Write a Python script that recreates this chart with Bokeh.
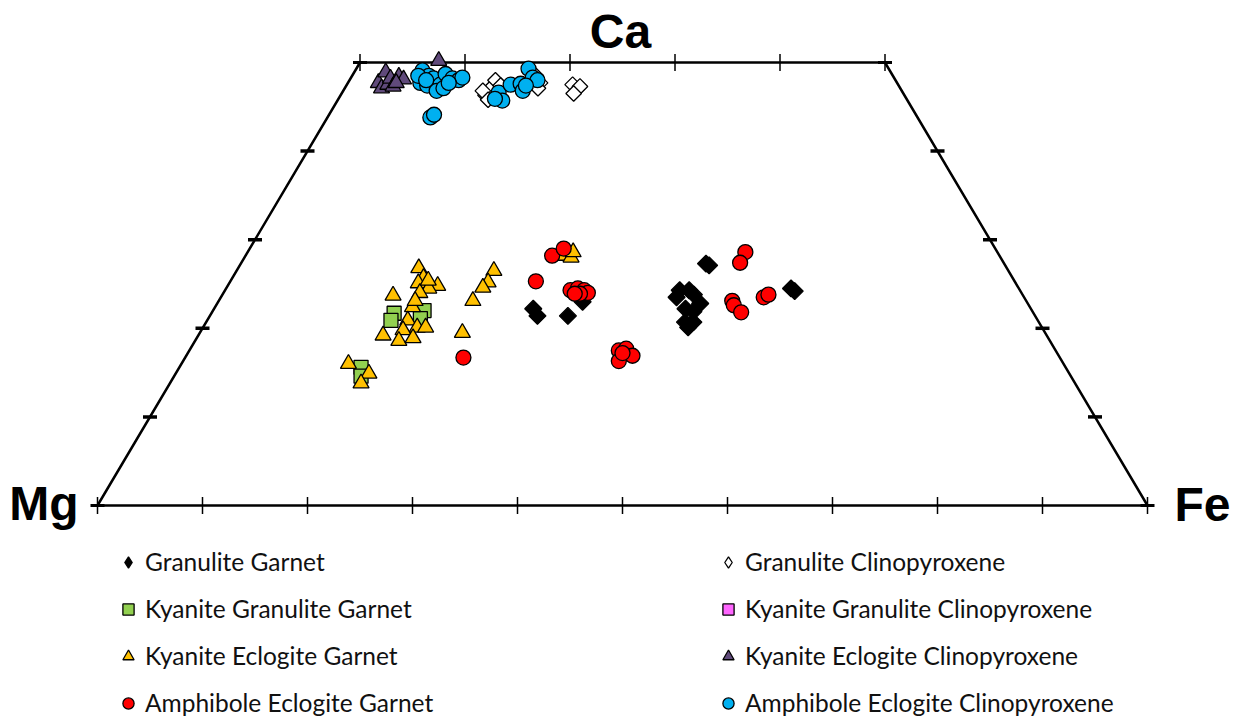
import numpy as np
from bokeh.plotting import figure
from bokeh.models import Legend, LegendItem, Label, Range1d
from bokeh.embed import file_html
from bokeh.resources import INLINE

# ---------------- data: Ca and Fe in mol % (Mg = 100 - Ca - Fe) ----------------
gran_grt_ca = [22.2, 21.4, 21.4, 23.0, 27.3, 27.1, 24.3, 24.3, 23.8, 22.8, 22.2, 21.9, 20.7, 20.7, 20.1, 24.5, 24.2, 23.5]
gran_grt_fe = [30.4, 31.2, 34.1, 34.7, 44.3, 44.7, 43.3, 44.2, 44.9, 46.0, 44.9, 45.8, 45.6, 46.4, 46.2, 53.8, 54.3, 43.4]

ky_gran_grt_ca = [21.7, 20.9, 22.0, 21.1, 15.6, 14.6]
ky_gran_grt_fe = [17.4, 17.5, 20.1, 20.2, 17.3, 17.8]

ky_ecl_grt_ca = [26.8, 25.7, 25.1, 24.8, 24.5, 24.0, 23.7, 22.4, 20.9, 20.1, 20.1, 19.8, 19.2, 18.6,
                 18.9, 26.5, 25.2, 24.6, 23.1, 19.5, 16.0, 14.9, 13.8, 28.2, 28.0, 28.6, 23.1, 25.4]
ky_ecl_grt_fe = [17.2, 18.2, 18.0, 20.0, 19.3, 18.7, 16.3, 18.8, 19.1, 20.4, 21.2, 19.2, 17.6, 19.4,
                 20.6, 24.5, 24.6, 24.4, 24.2, 25.0, 15.9, 18.4, 18.2, 30.3, 31.1, 31.0, 18.7, 18.8]

amph_ecl_grt_ca = [28.2, 29.0, 25.3, 24.3, 24.5, 24.3, 24.0, 23.9, 16.7, 17.5, 17.7, 16.9, 16.3,
                   28.6, 27.4, 23.1, 22.6, 21.8, 23.5, 23.8, 23.9, 17.2]
amph_ecl_grt_fe = [29.2, 29.9, 29.1, 32.9, 33.5, 34.2, 34.7, 34.0, 26.5, 40.9, 41.5, 42.5, 41.5,
                   47.4, 47.5, 48.9, 49.3, 50.4, 51.7, 52.0, 33.5, 41.4]

gran_cpx_ca = [46.3, 47.1, 48.0, 46.8, 45.8, 48.5, 47.7, 47.1, 47.5, 47.3, 46.5, 47.4]
gran_cpx_fe = [13.8, 13.9, 13.9, 13.3, 14.3, 17.5, 18.3, 18.4, 21.5, 22.3, 22.1, 14.7]

ky_gran_cpx_ca = []
ky_gran_cpx_fe = []

ky_ecl_cpx_ca = [47.7, 47.1, 48.9, 47.5, 48.2, 47.3, 48.4, 48.1, 47.7, 50.2]
ky_ecl_cpx_fe = [2.9, 3.5, 3.0, 3.9, 3.8, 4.5, 4.5, 5.1, 4.6, 7.4]

amph_ecl_cpx_ca = [49.1, 48.5, 47.7, 47.4, 48.2, 47.5, 48.7, 48.2, 48.0, 48.3, 46.8, 47.1, 47.7, 43.8,
                   44.1, 48.5, 48.0, 46.6, 45.7, 45.9, 47.5, 47.6, 46.8, 49.3, 48.3, 48.0, 47.4]
amph_ecl_cpx_fe = [6.4, 7.3, 6.9, 7.7, 7.9, 8.9, 8.8, 9.7, 10.4, 10.6, 8.9, 9.4, 9.6, 9.8,
                   10.0, 6.3, 7.3, 14.9, 15.7, 14.9, 15.6, 16.5, 17.1, 16.4, 17.3, 17.9, 17.1]

# frame: corners and tick compositions
corner_labels = ["Mg", "Fe", "Ca"]
base_ticks_fe = [0, 10, 20, 30, 40, 50, 60, 70, 80, 90, 100]
top_ticks_fe = [0, 10, 20, 30, 40, 50]
side_ticks_ca = [10, 20, 30, 40]
ca_cut = 50


def tern(ca, fe):
    ca = np.asarray(ca, dtype=float)
    fe = np.asarray(fe, dtype=float)
    return fe + ca / 2.0, ca


# pixel geometry of the reference: Mg at px (97,505), Fe at (1147,505), Ca=50 line at y=62
W, H = 1239, 722
sx = 10.5      # px per % along base
sy = 8.86      # px per % Ca
p = figure(width=W, height=H, output_backend="svg", toolbar_location=None,
           x_range=Range1d(-97 / sx, (W - 97) / sx),
           y_range=Range1d((505 - H) / sy, 505 / sy),
           min_border=0, background_fill_color="white", border_fill_color="white")
p.axis.visible = False
p.grid.visible = False
p.outline_line_color = None

# frame
fx, fy = tern([0, 0, ca_cut, ca_cut, 0], [0, 100, 100 - ca_cut, 0, 0])
p.line(fx, fy, line_color="black", line_width=2.5)

bx, by = tern([0] * len(base_ticks_fe), base_ticks_fe)
p.scatter(bx, by, marker="dash", angle=np.pi / 2, size=17, line_color="black", line_width=1.5)
tx, ty = tern([ca_cut] * len(top_ticks_fe), top_ticks_fe)
p.scatter(tx, ty, marker="dash", angle=np.pi / 2, size=17, line_color="black", line_width=1.5)
lx, ly = tern(side_ticks_ca, [0] * len(side_ticks_ca))
p.scatter(lx, ly, marker="dash", size=14, line_color="black", line_width=3.5)
rx, ry = tern(side_ticks_ca, [100 - c for c in side_ticks_ca])
p.scatter(rx, ry, marker="dash", size=14, line_color="black", line_width=3.5)
cx, cy = tern([0, 0, ca_cut, ca_cut], [0, 100, 0, 100 - ca_cut])
p.scatter(cx, cy, marker="dash", size=14, line_color="black", line_width=3)

# data series: name, Ca, Fe, marker, angle, size, fill, legend marker
series = [
    ("Granulite Garnet", gran_grt_ca, gran_grt_fe, "square", np.pi / 4, 12, "black", "diamond"),
    ("Kyanite Granulite Garnet", ky_gran_grt_ca, ky_gran_grt_fe, "square", 0, 14, "#92D050", "square"),
    ("Kyanite Eclogite Garnet", ky_ecl_grt_ca, ky_ecl_grt_fe, "triangle", 0, 16, "#FFC000", "triangle"),
    ("Amphibole Eclogite Garnet", amph_ecl_grt_ca, amph_ecl_grt_fe, "circle", 0, 15, "#FF0000", "circle"),
    ("Granulite Clinopyroxene", gran_cpx_ca, gran_cpx_fe, "square", np.pi / 4, 11, "white", "diamond"),
    ("Kyanite Granulite Clinopyroxene", ky_gran_cpx_ca, ky_gran_cpx_fe, "square", 0, 14, "#FF66FF", "square"),
    ("Kyanite Eclogite Clinopyroxene", ky_ecl_cpx_ca, ky_ecl_cpx_fe, "triangle", 0, 16, "#604A7B", "triangle"),
    ("Amphibole Eclogite Clinopyroxene", amph_ecl_cpx_ca, amph_ecl_cpx_fe, "circle", 0, 15, "#00B0F0", "circle"),
]

items = []
for name, ca, fe, marker, ang, size, fill, lmarker in series:
    x, y = tern(ca, fe)
    p.scatter(x, y, marker=marker, angle=ang, size=size, fill_color=fill,
              line_color="black", line_width=1.3)
    # legend swatch (a single undrawable NaN point, used only by the legend)
    proxy = p.scatter([np.nan], [np.nan], marker=lmarker, size=size, fill_color=fill,
                      line_color="black", line_width=1.3)
    items.append(LegendItem(label=name, renderers=[proxy]))

common = dict(glyph_width=28, glyph_height=28, label_height=28, spacing=18, padding=0, margin=0,
              label_standoff=3, border_line_color=None, background_fill_alpha=0,
              label_text_font="Lato", label_text_font_size="24.5px", label_text_color="#111111")
leg1 = Legend(items=items[:4], location=(114, 5), **common)
leg2 = Legend(items=items[4:], location=(714, 5), **common)
p.add_layout(leg1, "center")
p.add_layout(leg2, "center")

# corner labels
lab_style = dict(text_font="Liberation Sans", text_font_style="bold", text_font_size="48px",
                 text_color="black", text_baseline="alphabetic")
mgx, mgy = tern([0], [0])
fex, fey = tern([0], [100])
cax, cay = tern([ca_cut], [100 - ca_cut])
cbx, cby = tern([ca_cut], [0])
p.add_layout(Label(x=float(mgx[0]), y=float(mgy[0]), x_offset=-19, y_offset=2,
                   text=corner_labels[0], text_align="right", **lab_style))
p.add_layout(Label(x=float(fex[0]), y=float(fey[0]), x_offset=27, y_offset=1,
                   text=corner_labels[1], text_align="left", **lab_style))
p.add_layout(Label(x=float((cax[0] + cbx[0]) / 2), y=float(cay[0]), x_offset=-2, y_offset=31,
                   text=corner_labels[2], text_align="center", **lab_style))

open("out.html", "w").write(file_html(p, INLINE))
